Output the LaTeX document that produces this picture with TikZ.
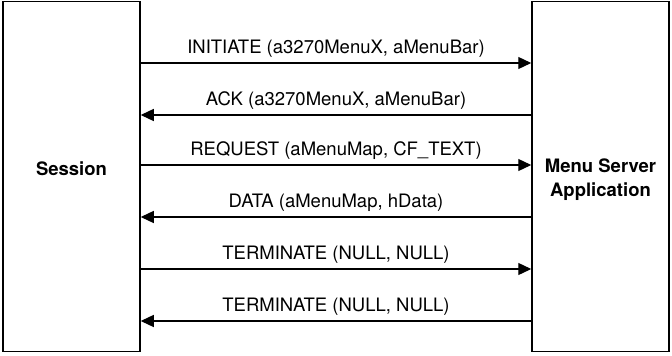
\documentclass[tikz,border=0pt]{standalone}
\usepackage{fontspec}
\setmainfont{TeX Gyre Heros}
\usetikzlibrary{arrows.meta}
\begin{document}
\begin{tikzpicture}[x=1pt, y=-1pt,
    box/.style={draw, line width=1.5pt, minimum width=137pt, minimum height=350pt,
        inner sep=0pt},
    partner/.style={align=center, font=\fontsize{18.5}{24}\selectfont\bfseries},
    msg/.style={line width=1.3pt, -{Triangle[length=13pt, width=12pt]}},
    lbl/.style={above=5pt, inner sep=0pt, font=\fontsize{18.5}{22}\selectfont}
]
    \useasboundingbox (0,0) rectangle (672,356);

    % Partners
    \node[box] (S) at (71.5,176.5) {};
    \node[partner] (Slabel) at (71.5,168.5) {Session};
    \node[box] (M) at (600.5,176.5) {};
    \node[partner] (Mlabel) at (600.5,179.5) {Menu Server\\Application};

    % Messages
    \foreach \y/\from/\to/\txt [count=\i] in {
        63/S/M/{INITIATE (a3270MenuX, aMenuBar)},
        115/M/S/{ACK (a3270MenuX, aMenuBar)},
        165/S/M/{REQUEST (aMenuMap, CF\_TEXT)},
        217/M/S/{DATA (aMenuMap, hData)},
        269/S/M/{TERMINATE (NULL, NULL)},
        321/M/S/{TERMINATE (NULL, NULL)}} {
        \coordinate (S\i) at (S.east |- 0,\y);
        \coordinate (M\i) at (M.west |- 0,\y);
        \draw[msg] (\from\i) -- (\to\i) node[lbl, midway] {\txt};
    }

\end{tikzpicture}
\end{document}
